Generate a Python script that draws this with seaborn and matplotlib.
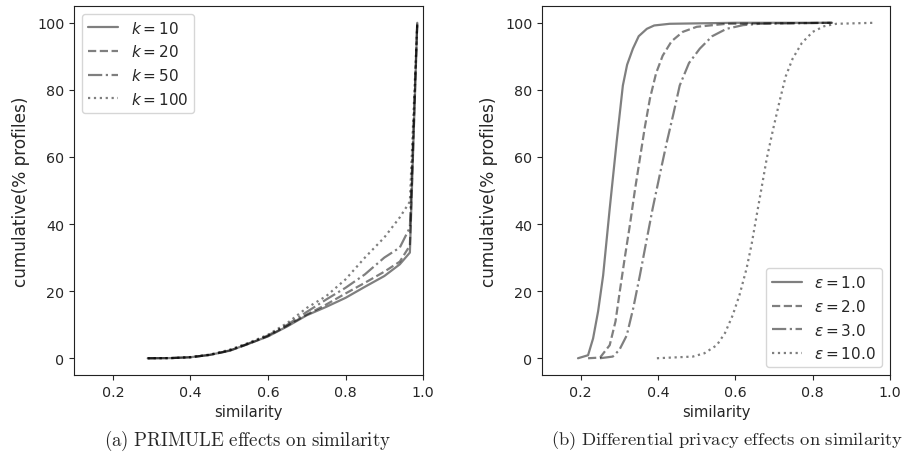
import pandas as pd
import seaborn as sns
import matplotlib
matplotlib.use("Agg")
import matplotlib.pyplot as plt

# (a) PRIMULE: cumulative % of profiles vs similarity, per k
sim_a = [0.29, 0.35, 0.40, 0.45, 0.50, 0.55, 0.60, 0.65, 0.70, 0.75, 0.80,
         0.85, 0.90, 0.94, 0.966, 0.985]
k10 = [0, 0.05, 0.3, 1.0, 2.2, 4.3, 6.5, 9.5, 12.8, 15.3, 18.0, 21.3, 24.5, 28.0, 31.5, 100]
k20 = [0, 0.05, 0.3, 1.0, 2.2, 4.3, 6.6, 9.7, 13.0, 16.0, 19.3, 22.5, 25.8, 28.8, 33.6, 100]
k50 = [0, 0.05, 0.3, 1.0, 2.3, 4.4, 6.8, 10.0, 13.8, 17.5, 21.0, 25.0, 30.0, 33.0, 39.0, 100]
k100 = [0, 0.05, 0.35, 1.1, 2.5, 4.6, 7.0, 10.5, 15.0, 18.5, 23.5, 30.0, 36.0, 42.0, 46.7, 100]
labels_a = ["$k = 10$", "$k = 20$", "$k = 50$", "$k = 100$"]

# (b) differential privacy: cumulative % of profiles vs similarity, per epsilon
sim_e1 = [0.193, 0.219, 0.232, 0.245, 0.258, 0.275, 0.293, 0.309, 0.320, 0.335,
          0.350, 0.371, 0.390, 0.430, 0.60, 0.85]
eps1 = [0, 0.9, 5.9, 14.0, 24.7, 44.6, 64.6, 81.3, 87.5, 92.3, 96.0, 98.2, 99.2, 99.7, 100, 100]
sim_e2 = [0.219, 0.250, 0.275, 0.290, 0.301, 0.314, 0.327, 0.340, 0.353, 0.366,
          0.379, 0.395, 0.412, 0.435, 0.464, 0.500, 0.577, 0.85]
eps2 = [0, 0.2, 3.9, 11.0, 19.9, 30.0, 39.6, 50.0, 59.5, 69.0, 77.4, 85.0, 90.2, 94.5,
        97.3, 98.8, 99.7, 100]
sim_e3 = [0.250, 0.283, 0.300, 0.319, 0.336, 0.353, 0.370, 0.386, 0.405, 0.423,
          0.440, 0.456, 0.480, 0.508, 0.540, 0.577, 0.620, 0.663, 0.85]
eps3 = [0, 0.5, 2.5, 6.8, 15.0, 24.7, 35.0, 44.6, 55.0, 64.6, 73.0, 81.3, 88.0, 92.3,
        96.0, 98.2, 99.3, 99.7, 100]
sim_e10 = [0.397, 0.490, 0.520, 0.552, 0.573, 0.593, 0.611, 0.629, 0.642, 0.655,
           0.668, 0.681, 0.697, 0.714, 0.730, 0.748, 0.772, 0.800, 0.830, 0.861, 0.96]
eps10 = [0, 0.5, 1.5, 3.9, 7.5, 12.8, 19.0, 26.8, 34.0, 42.6, 51.0, 59.5, 68.0, 76.5,
         84.0, 89.3, 94.0, 97.3, 99.0, 99.7, 100]
labels_b = [r"$\varepsilon = 1.0$", r"$\varepsilon = 2.0$", r"$\varepsilon = 3.0$", r"$\varepsilon = 10.0$"]

styles = ["-", "--", "-.", ":"]

sns.set_style("ticks")
plt.rcParams["font.size"] = 10.4

fig = plt.figure(figsize=(9.04, 4.77), dpi=100)
ax1 = fig.add_axes([0.0819, 0.2117, 0.3861, 0.7736])
ax2 = fig.add_axes([0.5996, 0.2117, 0.3850, 0.7736])

for ys, lab, ls in zip([k10, k20, k50, k100], labels_a, styles):
    sns.lineplot(x=sim_a, y=ys, ax=ax1, color="k", alpha=0.5, linestyle=ls,
                 linewidth=1.6, label=lab)

for xs, ys, lab, ls in zip([sim_e1, sim_e2, sim_e3, sim_e10],
                           [eps1, eps2, eps3, eps10], labels_b, styles):
    sns.lineplot(x=xs, y=ys, ax=ax2, color="k", alpha=0.5, linestyle=ls,
                 linewidth=1.6, label=lab)

for ax in (ax1, ax2):
    ax.set_xlim(0.1, 1.0)
    ax.set_ylim(-5, 105)
    ax.set_xticks([0.2, 0.4, 0.6, 0.8, 1.0])
    ax.set_yticks([0, 20, 40, 60, 80, 100])
    ax.tick_params(labelsize=10.3)
    ax.set_xlabel("similarity", fontsize=10.6)
    ax.set_ylabel("cumulative(% profiles)", fontsize=12.2, labelpad=5)
    for s in ax.spines.values():
        s.set_color("#222222")

ax1.legend(loc="upper left", fontsize=11)
ax2.legend(loc="lower right", fontsize=11)

fig.text(0.274, 0.0755, r"$\mathrm{(a)\ PRIMULE\ effects\ on\ similarity}$",
         ha="center", va="center", fontsize=13.6, math_fontfamily="cm")
fig.text(0.804, 0.0755, r"$\mathrm{(b)\ Differential\ privacy\ effects\ on\ similarity}$",
         ha="center", va="center", fontsize=13.4, math_fontfamily="cm")

fig.savefig("out.png", dpi=100)
